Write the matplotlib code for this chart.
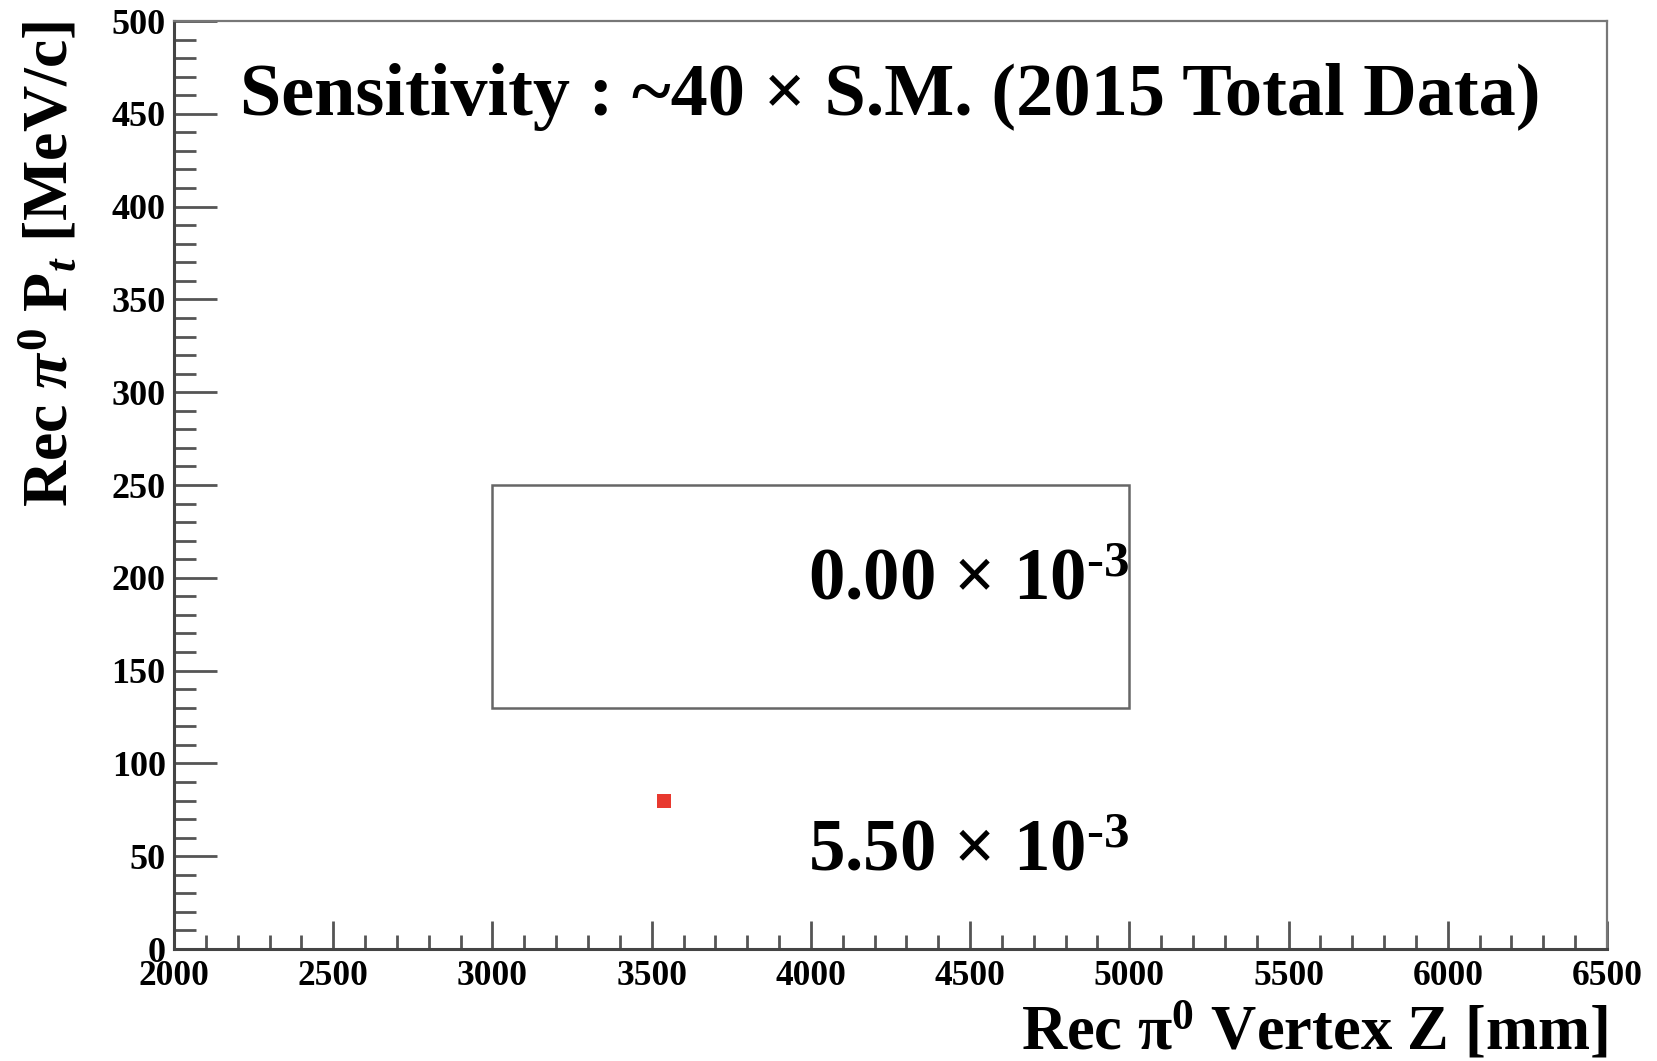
import matplotlib
matplotlib.use("Agg")
import matplotlib.pyplot as plt
from matplotlib.patches import Rectangle

# ---- data ----
x_range = [2000, 6500]
y_range = [0, 500]
x_major = [2000, 2500, 3000, 3500, 4000, 4500, 5000, 5500, 6000, 6500]
y_major = [0, 50, 100, 150, 200, 250, 300, 350, 400, 450, 500]
signal_box = [3000, 5000, 130, 250]   # z_min, z_max, pt_min, pt_max
event_z = [3540]
event_pt = [80]
inside_value = 0.00
outside_value = 5.50
sensitivity = 40
year = 2015

plt.rcParams['font.family'] = ['Liberation Serif', 'DejaVu Serif']
plt.rcParams['font.weight'] = 'bold'
plt.rcParams['mathtext.fontset'] = 'custom'
plt.rcParams['mathtext.rm'] = 'Liberation Serif:bold'
plt.rcParams['mathtext.bf'] = 'Liberation Serif:bold'
plt.rcParams['mathtext.it'] = 'Liberation Serif:italic:bold'

fig = plt.figure(figsize=(16.57, 10.61), dpi=100)
ax = fig.add_axes([174/1657, 1-949/1061, (1607-174)/1657, (949-21)/1061])

ax.set_xlim(*x_range)
ax.set_ylim(*y_range)
ax.set_xticks(x_major)
ax.set_yticks(y_major)
ax.set_xticks([v for v in range(2000, 6501, 100) if v % 500], minor=True)
ax.set_yticks([v for v in range(0, 501, 10) if v % 50], minor=True)

frame_col = '#555555'
for s in ['left', 'bottom']:
    ax.spines[s].set_color('#444444')
    ax.spines[s].set_linewidth(2.2)
for s in ['top', 'right']:
    ax.spines[s].set_color('#777777')
    ax.spines[s].set_linewidth(1.6)

ax.tick_params(axis='x', which='major', direction='in', length=20, width=2, color=frame_col,
               labelsize=25.5, pad=8)
ax.tick_params(axis='x', which='minor', direction='in', length=10, width=2, color=frame_col)
ax.tick_params(axis='y', which='major', direction='in', length=31, width=2, color=frame_col,
               labelsize=26, pad=6)
ax.tick_params(axis='y', which='minor', direction='in', length=16, width=2, color=frame_col)
for lab in ax.get_xticklabels() + ax.get_yticklabels():
    lab.set_fontweight('bold')

# signal box
ax.add_patch(Rectangle((signal_box[0], signal_box[2]), signal_box[1]-signal_box[0],
                       signal_box[3]-signal_box[2], fill=False, edgecolor='#666666', lw=1.8))

# event
ax.scatter(event_z, event_pt, marker='s', s=110, color='#e8392f', linewidths=0, zorder=5)

ax.text(0.046, 0.918, f"Sensitivity : ~{sensitivity} × S.M. ({year} Total Data)",
        transform=ax.transAxes, fontsize=53.5, fontweight='bold', va='center', ha='left')

ax.text(signal_box[1], 188.5, f"{inside_value:.2f} × 10$^{{‐3}}$", fontsize=52.5,
        fontweight='bold', ha='right', va='baseline')
ax.text(signal_box[1], 42.5, f"{outside_value:.2f} × 10$^{{‐3}}$", fontsize=52.5,
        fontweight='bold', ha='right', va='baseline')

ax.set_xlabel(r"Rec $\mathrm{\pi}^{0}$ Vertex Z [mm]", fontsize=45, fontweight='bold',
              loc='right', labelpad=6)
ax.set_ylabel(r"Rec $\mathit{\pi}^{0}$ P$_{t}$ [MeV/c]", fontsize=46, fontweight='bold',
              loc='top', labelpad=22)

fig.savefig("out.png", dpi=100)
